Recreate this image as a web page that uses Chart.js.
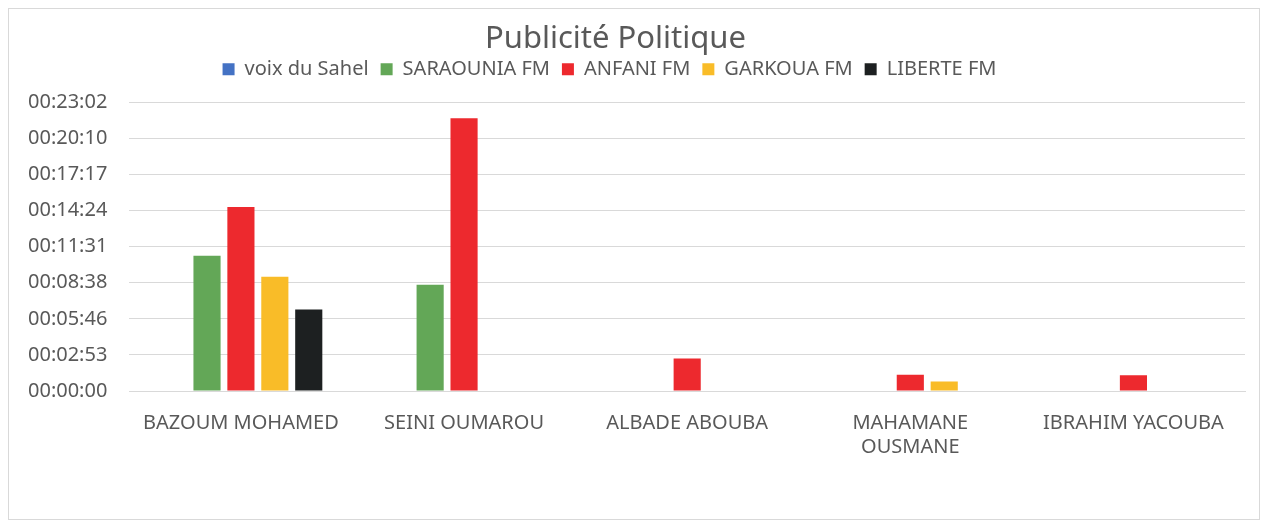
<!DOCTYPE html>
<html>
<head>
<meta charset="utf-8">
<script src="https://cdn.jsdelivr.net/npm/chart.js@4.4.1/dist/chart.umd.min.js"></script>
<style>
  html, body { margin: 0; padding: 0; background: #fff; }
  #wrap {
    position: absolute; left: 8px; top: 8px;
    width: 1250px; height: 510px;
    border: 1px solid #d9d9d9;
  }
</style>
</head>
<body>
<div id="wrap"><canvas id="chart"></canvas></div>
<script>
// durées en secondes
const categories = ["BAZOUM MOHAMED", "SEINI OUMAROU", "ALBADE ABOUBA", ["MAHAMANE", "OUSMANE"], "IBRAHIM YACOUBA"];
const voixDuSahel = [0, 0, 0, 0, 0];
const saraounia = [648, 509, 0, 0, 0];
const anfani = [881, 1306, 155, 78, 75];
const garkoua = [547, 0, 0, 45, 0];
const liberte = [390, 0, 0, 0, 0];
const tickSeconds = [0, 172.8, 345.6, 518.4, 691.2, 864, 1036.8, 1209.6, 1382.4];

const FONT = "'Noto Sans', 'DejaVu Sans', sans-serif";
const GREY = "#595959";

function fmtTime(sec) {
  const s = Math.round(sec);
  const h = Math.floor(s / 3600);
  const m = Math.floor((s % 3600) / 60);
  const r = s % 60;
  const p = n => String(n).padStart(2, "0");
  return `${p(h)}:${p(m)}:${p(r)}`;
}

const ds = (label, data, color) => ({
  label, data, backgroundColor: color, borderWidth: 0,
  barPercentage: 0.8, categoryPercentage: 0.76,
});

// titre et légende décalés comme dans Excel
const nudge = {
  id: "nudge",
  afterInit(chart) {
    const wrapDraw = (box, dx, dy) => {
      const orig = box.draw;
      box.draw = function (...args) {
        chart.ctx.save();
        chart.ctx.translate(dx, dy);
        orig.apply(this, args);
        chart.ctx.restore();
      };
    };
    if (chart.titleBlock) wrapDraw(chart.titleBlock, -10, -2);
    if (chart.legend) wrapDraw(chart.legend, -16, -13);
  },
};

new Chart(document.getElementById("chart"), {
  type: "bar",
  data: {
    labels: categories,
    datasets: [
      ds("voix du Sahel", voixDuSahel, "#4472c4"),
      ds("SARAOUNIA FM", saraounia, "#63a757"),
      ds("ANFANI FM", anfani, "#ed292e"),
      ds("GARKOUA FM", garkoua, "#f9bc28"),
      ds("LIBERTE FM", liberte, "#1d2021"),
    ],
  },
  plugins: [nudge],
  options: {
    responsive: true,
    maintainAspectRatio: false,
    animation: false,
    layout: { padding: { left: -3, right: 14, top: 3, bottom: 48 } },
    plugins: {
      title: {
        display: true,
        text: "Publicité Politique",
        color: GREY,
        font: { family: FONT, size: 31, weight: "normal" },
        padding: { top: 11, bottom: 0 },
      },
      legend: {
        position: "top",
        labels: {
          color: GREY,
          font: { family: FONT, size: 20 },
          boxWidth: 12, boxHeight: 12,
          padding: 12,
        },
      },
      tooltip: { enabled: false },
    },
    scales: {
      x: {
        grid: { display: false },
        border: { color: "#d9d9d9" },
        ticks: { color: GREY, font: { family: FONT, size: 20 }, padding: 12, maxRotation: 0, autoSkip: false },
      },
      y: {
        min: 0,
        max: 1382.4,
        afterBuildTicks: axis => { axis.ticks = tickSeconds.map(v => ({ value: v })); },
        grid: { color: "#d9d9d9", lineWidth: 1, drawTicks: false },
        border: { display: false },
        ticks: { color: GREY, font: { family: FONT, size: 20 }, padding: 22, callback: v => fmtTime(v) },
      },
    },
  },
});
</script>
</body>
</html>
